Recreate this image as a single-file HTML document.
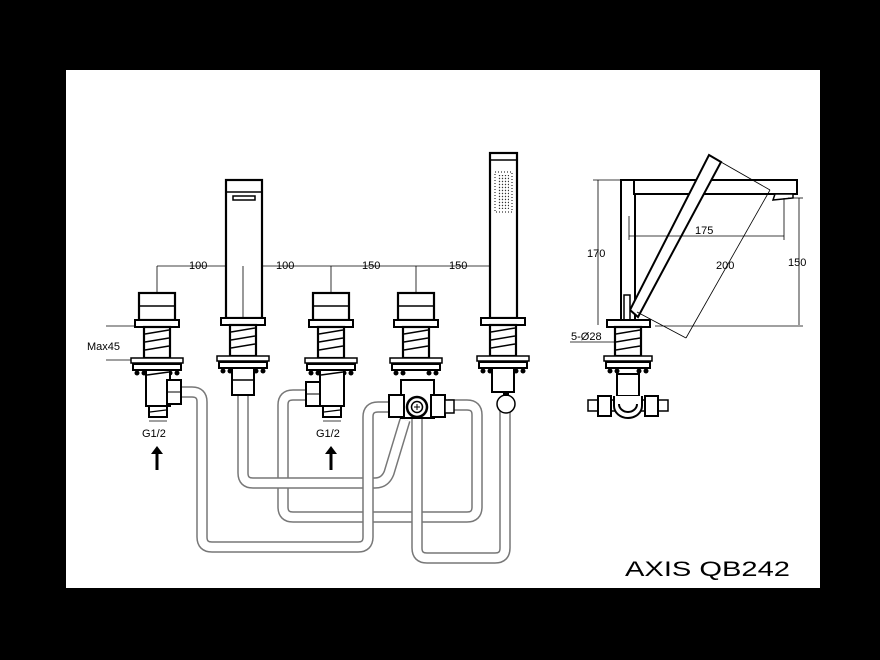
<!DOCTYPE html>
<html><head><style>
html,body{margin:0;padding:0;background:#000;}
svg{display:block}
text{font-family:"Liberation Sans",sans-serif;fill:#000}
</style></head><body>
<svg width="880" height="660" viewBox="0 0 880 660" xmlns="http://www.w3.org/2000/svg">
<rect x="0" y="0" width="880" height="660" fill="#000"/>
<rect x="66" y="70" width="754" height="518" fill="#fff"/>

<!-- hoses -->
<g fill="none" stroke-linejoin="round" stroke-linecap="butt">
<path d="M305,395 H293 Q283,395 283,405 V507 Q283,517 293,517 H467 Q477,517 477,507 V415 Q477,405 467,405 H448" stroke="#777" stroke-width="11.5"/>
<path d="M305,395 H293 Q283,395 283,405 V507 Q283,517 293,517 H467 Q477,517 477,507 V415 Q477,405 467,405 H448" stroke="#fff" stroke-width="8.5"/>
<path d="M243,392 V473 Q243,483 253,483 H375 Q385,483 389,473 L405,420" stroke="#777" stroke-width="11.5"/>
<path d="M243,392 V473 Q243,483 253,483 H375 Q385,483 389,473 L405,420" stroke="#fff" stroke-width="8.5"/>
<path d="M180,392 H192 Q202,392 202,402 V537 Q202,547 212,547 H358 Q368,547 368,537 V417 Q368,407 378,407 H392" stroke="#777" stroke-width="11.5"/>
<path d="M180,392 H192 Q202,392 202,402 V537 Q202,547 212,547 H358 Q368,547 368,537 V417 Q368,407 378,407 H392" stroke="#fff" stroke-width="8.5"/>
<path d="M417,418 V548 Q417,558 427,558 H495 Q505,558 505,548 V410" stroke="#777" stroke-width="11.5"/>
<path d="M417,418 V548 Q417,558 427,558 H495 Q505,558 505,548 V410" stroke="#fff" stroke-width="8.5"/>
</g>

<!-- dimension line top -->
<g stroke="#000" stroke-width="0.8" fill="none">
<line x1="157" y1="266" x2="497" y2="266"/>
<line x1="157" y1="266" x2="157" y2="293"/>
<line x1="243" y1="266" x2="243" y2="318"/>
<line x1="331" y1="266" x2="331" y2="293"/>
<line x1="416" y1="266" x2="416" y2="293"/>
<line x1="497" y1="266" x2="497" y2="318"/>
<line x1="106" y1="326" x2="137" y2="326"/>
<line x1="106" y1="360" x2="137" y2="360"/>
</g>
<g font-size="11">
<text x="189" y="269">100</text><text x="276" y="269">100</text>
<text x="362" y="269">150</text><text x="449" y="269">150</text>
<text x="87" y="350">Max45</text>
<text x="142" y="437">G1/2</text><text x="316" y="437">G1/2</text>
</g>

<defs>
<g id="base">
<rect x="-22" y="0" width="44" height="7" fill="#fff" stroke="#000" stroke-width="2"/>
<rect x="-13" y="7" width="26" height="31" fill="#fff" stroke="#000" stroke-width="2.2"/>
<path d="M-12,14 L12,10 M-12,22 L12,18 M-12,30 L12,26" stroke="#000" stroke-width="1.5"/>
<rect x="-26" y="38" width="52" height="5" fill="#fff" stroke="#000" stroke-width="1.5"/>
<rect x="-24" y="44" width="48" height="6" fill="#fff" stroke="#000" stroke-width="2"/>
<circle cx="-20" cy="53" r="2.5" fill="#000"/><circle cx="-13" cy="53" r="2.5" fill="#000"/>
<circle cx="13" cy="53" r="2.5" fill="#000"/><circle cx="20" cy="53" r="2.5" fill="#000"/>
</g>
<g id="handle">
<rect x="-18" y="0" width="36" height="27" fill="#fff" stroke="#000" stroke-width="2.2"/>
<line x1="-18" y1="13" x2="18" y2="13" stroke="#000" stroke-width="1.5"/>
</g>
<g id="valve">
<use href="#handle"/>
<g transform="translate(0,27)"><use href="#base"/></g>
<rect x="-11" y="77" width="24" height="36" fill="#fff" stroke="#000" stroke-width="2"/>
<path d="M-10,82 L12,79" stroke="#000" stroke-width="1.5"/>
<rect x="-8" y="113" width="18" height="11" fill="#fff" stroke="#000" stroke-width="2"/>
<path d="M-7,119 L9,117" stroke="#000" stroke-width="1.2"/>
<line x1="-8" y1="128" x2="10" y2="128" stroke="#000" stroke-width="0.8"/>
</g>
<g id="arrow">
<polygon points="0,0 -6,8 6,8" fill="#000"/>
<rect x="-1.5" y="7" width="3" height="17" fill="#000"/>
</g>
<pattern id="dots" width="3" height="3" patternUnits="userSpaceOnUse"><circle cx="1.5" cy="1.5" r="0.7" fill="#333"/></pattern>
</defs>

<!-- valve 1 -->
<g transform="translate(157,293)"><use href="#valve"/></g>
<rect x="167" y="380" width="14" height="24" fill="#fff" stroke="#000" stroke-width="2"/>
<line x1="167" y1="392" x2="181" y2="392" stroke="#000" stroke-width="1"/>
<g transform="translate(157,446)"><use href="#arrow"/></g>

<!-- spout -->
<rect x="226" y="180" width="36" height="138" fill="#fff" stroke="#000" stroke-width="2.2"/>
<line x1="226" y1="192" x2="262" y2="192" stroke="#000" stroke-width="1.5"/>
<rect x="233" y="196" width="22" height="4" fill="#fff" stroke="#000" stroke-width="1.5"/>
<line x1="243" y1="266" x2="243" y2="318" stroke="#000" stroke-width="0.8"/>
<g transform="translate(243,318)"><use href="#base"/></g>
<rect x="232" y="368" width="22" height="27" fill="#fff" stroke="#000" stroke-width="2"/>
<line x1="232" y1="380" x2="254" y2="380" stroke="#000" stroke-width="1.5"/>

<!-- valve 2 -->
<g transform="translate(331,293)"><use href="#valve"/></g>
<rect x="306" y="382" width="14" height="24" fill="#fff" stroke="#000" stroke-width="2"/>
<line x1="306" y1="394" x2="320" y2="394" stroke="#000" stroke-width="1"/>
<g transform="translate(331,446)"><use href="#arrow"/></g>

<!-- diverter -->
<g transform="translate(416,293)"><use href="#handle"/></g>
<g transform="translate(416,320)"><use href="#base"/></g>
<rect x="401" y="380" width="33" height="38" fill="#fff" stroke="#000" stroke-width="2"/>
<rect x="389" y="395" width="15" height="22" fill="#fff" stroke="#000" stroke-width="2"/>
<rect x="431" y="395" width="14" height="22" fill="#fff" stroke="#000" stroke-width="2"/>
<rect x="445" y="400" width="9" height="13" fill="#fff" stroke="#000" stroke-width="1.5"/>
<circle cx="417" cy="407" r="10" fill="#fff" stroke="#000" stroke-width="2.5"/>
<circle cx="417" cy="407" r="5.5" fill="#fff" stroke="#000" stroke-width="1.5"/>
<path d="M414,407 H420 M417,404 V410" stroke="#000" stroke-width="1"/>

<!-- hand shower -->
<rect x="490" y="153" width="27" height="165" fill="#fff" stroke="#000" stroke-width="2.2"/>
<line x1="490" y1="160" x2="517" y2="160" stroke="#000" stroke-width="1.5"/>
<rect x="495" y="172" width="17" height="40" fill="#fff" stroke="#000" stroke-width="1" stroke-dasharray="1 2"/>
<path d="M498,175 h11 v34 h-11z" fill="url(#dots)"/>
<g transform="translate(503,318)"><use href="#base"/></g>
<rect x="492" y="368" width="22" height="24" fill="#fff" stroke="#000" stroke-width="2"/>
<circle cx="506" cy="404" r="9" fill="#fff" stroke="#000" stroke-width="1.5"/>
<rect x="503" y="392" width="6" height="4" fill="#000"/>

<!-- side view -->
<g stroke="#000" fill="none">
<rect x="621" y="180" width="14" height="140" fill="#fff" stroke-width="2"/>
<rect x="634" y="180" width="163" height="14" fill="#fff" stroke-width="2"/>
<polygon points="709,155 721,162 638,317 630,310" fill="#fff" stroke-width="2"/>
<polygon points="773,200 775,194 793,194 793,198" fill="#fff" stroke-width="1.5"/>
<g stroke-width="0.8">
<line x1="593" y1="180" x2="621" y2="180"/>
<line x1="598" y1="180" x2="598" y2="325"/>
<line x1="629" y1="216" x2="629" y2="240"/>
<line x1="629" y1="236" x2="784" y2="236"/>
<line x1="784" y1="198" x2="784" y2="240"/>
<line x1="788" y1="198" x2="803" y2="198"/>
<line x1="799" y1="198" x2="799" y2="325"/>
<line x1="655" y1="326" x2="803" y2="326"/>
<line x1="714" y1="158" x2="770" y2="190"/>
<line x1="770" y1="190" x2="686" y2="338"/>
<line x1="637" y1="312" x2="686" y2="338"/>
<line x1="570" y1="342" x2="615" y2="342"/>
</g>
<rect x="624" y="295" width="6" height="25" fill="#fff" stroke-width="1.5"/>
</g>
<g font-size="11">
<text x="587" y="257">170</text>
<text x="695" y="234">175</text>
<text x="716" y="269">200</text>
<text x="788" y="266">150</text>
<text x="571" y="340">5-Ø28</text>
</g>
<g transform="translate(628,320)">
<rect x="-21" y="0" width="43" height="7" fill="#fff" stroke="#000" stroke-width="2"/>
<rect x="-13" y="7" width="26" height="29" fill="#fff" stroke="#000" stroke-width="2.2"/>
<path d="M-12,14 L12,10 M-12,22 L12,18 M-12,30 L12,26" stroke="#000" stroke-width="1.5"/>
<rect x="-24" y="36" width="48" height="5" fill="#fff" stroke="#000" stroke-width="1.5"/>
<rect x="-22" y="42" width="44" height="6" fill="#fff" stroke="#000" stroke-width="2"/>
<circle cx="-18" cy="51" r="2.5" fill="#000"/><circle cx="-11" cy="51" r="2.5" fill="#000"/>
<circle cx="11" cy="51" r="2.5" fill="#000"/><circle cx="18" cy="51" r="2.5" fill="#000"/>
<rect x="-11" y="54" width="22" height="22" fill="#fff" stroke="#000" stroke-width="2"/>
<rect x="-40" y="80" width="80" height="11" fill="#fff" stroke="#000" stroke-width="1.5"/>
<rect x="-30" y="76" width="13" height="20" fill="#fff" stroke="#000" stroke-width="2"/>
<rect x="17" y="76" width="13" height="20" fill="#fff" stroke="#000" stroke-width="2"/>
<path d="M-14,76 V86 A14,12 0 0 0 14,86 V76" fill="#fff" stroke="#000" stroke-width="2"/>
<path d="M-9,84 A9,8 0 0 0 9,84" fill="none" stroke="#000" stroke-width="2"/>
</g>

<text x="625" y="576" font-size="21" textLength="165" lengthAdjust="spacingAndGlyphs">AXIS QB242</text>
</svg>
</body></html>
